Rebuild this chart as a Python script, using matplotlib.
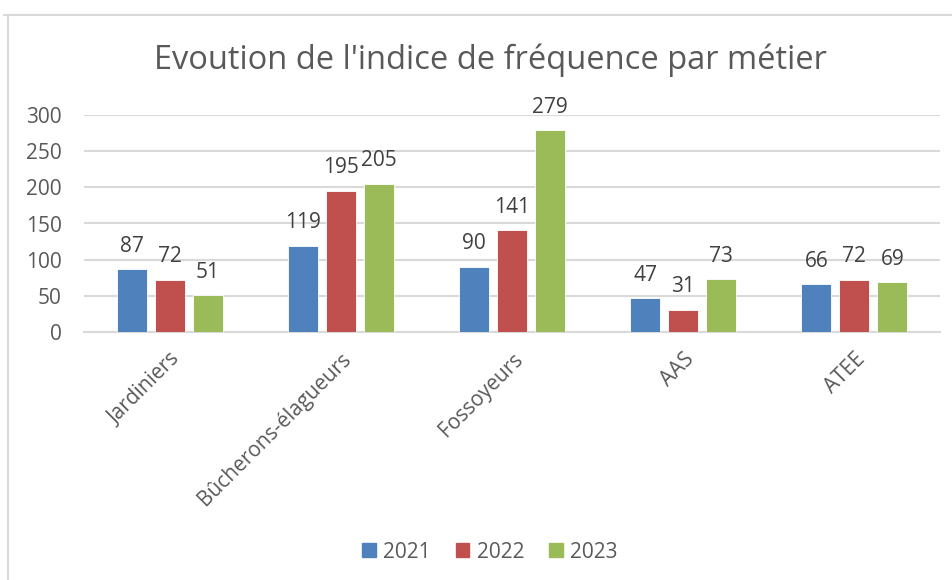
import matplotlib
matplotlib.use("Agg")
import matplotlib.pyplot as plt
from matplotlib.lines import Line2D
import numpy as np

categories = ["Jardiniers", "Bûcherons-élagueurs", "Fossoyeurs", "AAS", "ATEE"]
years = ["2021", "2022", "2023"]
v2021 = [87, 119, 90, 47, 66]
v2022 = [72, 195, 141, 31, 72]
v2023 = [51, 205, 279, 73, 69]
yticks = [0, 50, 100, 150, 200, 250, 300]
colors = ["#4F81BD", "#C0504D", "#9BBB59"]
title = "Evoution de l'indice de fréquence par métier"

plt.rcParams['font.family'] = ['Open Sans', 'DejaVu Sans']
txt = "#595959"

fig = plt.figure(figsize=(9.53, 5.8), dpi=100)
ax = fig.add_axes([84/953, 1-332/580, 856/953, 217/580])

x = np.arange(len(categories))
w = 0.175
off = 0.222
series = [v2021, v2022, v2023]
for i, (vals, c, yr) in enumerate(zip(series, colors, years)):
    bars = ax.bar(x + (i-1)*off, vals, w, color=c, label=yr, zorder=3,
                  edgecolor='white', linewidth=0.6)
    for b, v in zip(bars, vals):
        ax.annotate(str(v), (b.get_x()+b.get_width()/2, v), xytext=(0, 9),
                    textcoords='offset points', ha='center', va='bottom',
                    fontsize=15, color="#404040")

ax.set_xlim(-0.5, len(categories)-0.5)
ax.set_ylim(0, 300)
ax.set_yticks(yticks)
ax.set_yticklabels([str(t) for t in yticks], fontsize=15, color=txt)
ax.yaxis.grid(True, color="#D9D9D9", linewidth=1.5, zorder=0)
ax.set_axisbelow(True)
ax.tick_params(axis='y', length=0, pad=16)
ax.tick_params(axis='x', length=0, pad=12)
ax.set_xticks(x)
ax.set_xticklabels(categories, rotation=45, ha='right', rotation_mode='anchor',
                   fontsize=15, color=txt)
for s in ['top', 'right', 'left']:
    ax.spines[s].set_visible(False)
ax.spines['bottom'].set_color("#D9D9D9")
ax.spines['bottom'].set_linewidth(1.5)

fig.text(490/953, 1-60/580, title, ha='center', va='center', fontsize=23.5, color=txt)

handles = [plt.Rectangle((0, 0), 1, 1, color=c) for c in colors]
fig.legend(handles, years, loc='center', bbox_to_anchor=(490/953, 1-552/580),
           ncol=3, frameon=False, fontsize=15, labelcolor=txt,
           handlelength=0.65, handleheight=0.65, handletextpad=0.35, columnspacing=1.2)

# chart frame
fig.add_artist(Line2D([4/953, 1], [1-15/580, 1-15/580], color="#D9D9D9", linewidth=1.5))
fig.add_artist(Line2D([8/953, 8/953], [0, 1-15/580], color="#D9D9D9", linewidth=1.5))

fig.savefig("out.png", dpi=100, facecolor='white')
